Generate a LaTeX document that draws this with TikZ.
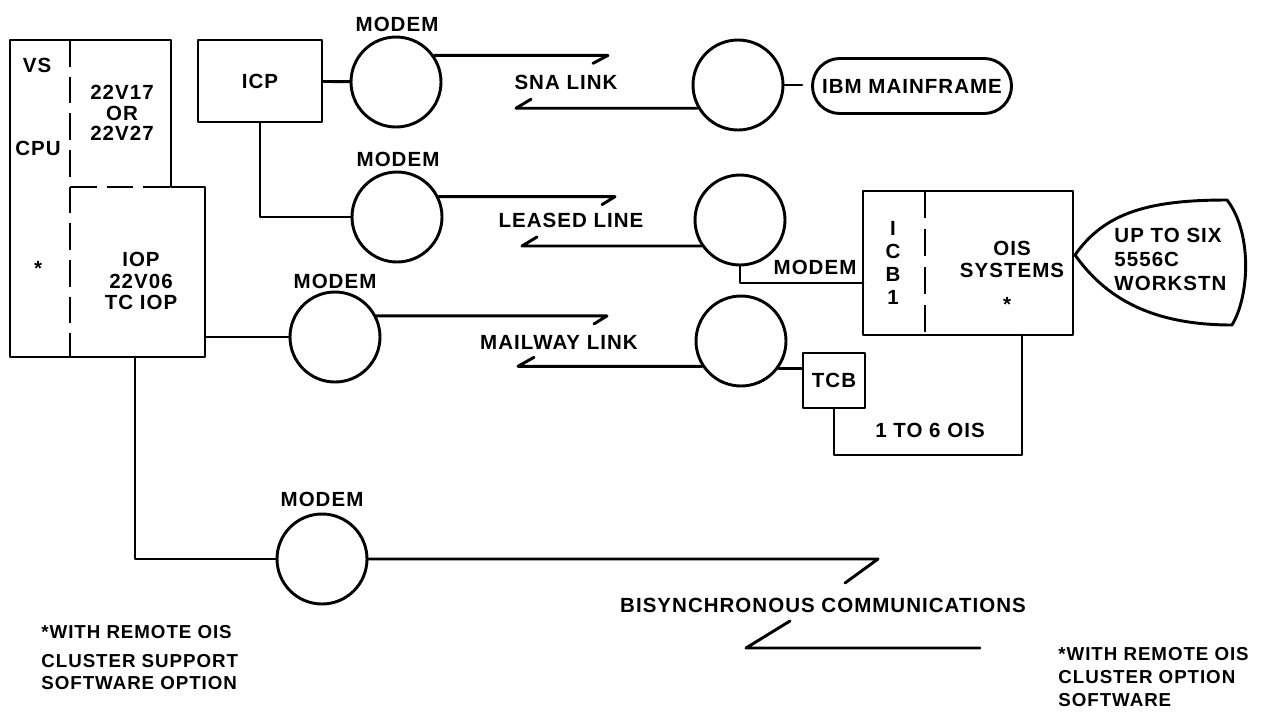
\documentclass[tikz,border=0pt]{standalone}
\usepackage{fontspec}
\setmainfont{Liberation Sans}[LetterSpace=5]
\newcommand\lbl{\fontsize{17.5pt}{21pt}\selectfont\bfseries}
\newcommand\lblsp[1]{\fontsize{17.5pt}{#1}\selectfont\bfseries}
\newcommand\fnsp[1]{\fontsize{16pt}{#1}\selectfont\bfseries}
\begin{document}
\begin{tikzpicture}[x=0.3mm,y=-0.3mm,line width=2.5pt,line join=round,line cap=round,
  modem/.style={circle,draw,minimum size=27mm,inner sep=0pt},
  boxnode/.style={draw,rectangle,inner sep=0pt,font=\lbl},
  txt/.style={inner sep=0pt,align=center,font=\lbl},
  dsh/.style={dash pattern=on 8mm off 3mm,line cap=butt}]
\useasboundingbox (0,0) rectangle (1263,712);

% CPU block
\draw (10,40) -- (171,40) -- (171,187) -- (205,187) -- (205,357) -- (10,357) -- cycle;
\draw[dsh] (70,40) -- (70,357);
\draw[dsh] (70,187) -- (171,187);
\node[txt] (tVS) at (37,65) {VS};
\node[txt] (tCPU) at (38,148) {CPU};
\node[txt] (tStarA) at (38,268) {*};
\node[txt,font=\lblsp{17.5pt}] (t22) at (122,113) {22V17\\OR\\22V27};
\node[txt,font=\lblsp{18pt}] (tIOP) at (141,281) {IOP\\22V06\\TC IOP};

% ICP and modems
\node[boxnode,minimum width=37.2mm,minimum height=24.6mm] (icp) at (260,81) {ICP};
\node[modem] (m1) at (396,82) {};
\node[modem] (m2) at (397,217) {};
\node[modem] (m3) at (335,337) {};
\node[modem] (m4) at (322,559) {};
\node[modem] (mr1) at (738,85) {};
\node[modem] (mr2) at (740,220) {};
\node[modem] (mr3) at (741,341) {};
\node[txt] (lm1) at (397,24) {MODEM};
\node[txt] (lm2) at (398,159) {MODEM};
\node[txt] (lm3) at (335,281) {MODEM};
\node[txt] (lm4) at (322,499) {MODEM};
\node[txt] (lmr2) at (815,267) {MODEM};

% link labels
\node[txt] (lsna) at (566,82) {SNA LINK};
\node[txt] (lleased) at (571,220) {LEASED LINE};
\node[txt] (lmail) at (559,342) {MAILWAY LINK};

% IBM mainframe
\node[draw,rounded corners=8.2mm,minimum width=59.7mm,minimum height=16.5mm,inner sep=0pt,font=\lbl] (ibm) at (912,86) {IBM MAINFRAME};
\coordinate (ibmGap) at (802,85);

% ICB / OIS systems
\node[boxnode,minimum width=63mm,minimum height=43.2mm] (icb) at (968,263) {};
\draw[dash pattern=on 8mm off 3.4mm,line cap=butt] (925,191) -- (925,335);
\node[txt,font=\lblsp{19.6pt}] (ticb) at (893,263) {I\\C\\B\\1};
\node[txt,font=\lblsp{18.8pt}] (tois) at (1012,259) {OIS\\SYSTEMS};
\node[txt] (tStarB) at (1007,304) {*};

% workstation shape
\draw (1075,255) .. controls (1105,212) and (1150,200) .. (1227,200)
      .. controls (1252,232) and (1250,295) .. (1232,325)
      .. controls (1150,325) and (1105,297) .. (1075,255);
\node[txt,align=left,anchor=west,font=\lblsp{20.5pt}] (tws) at (1113,259) {UP TO SIX\\5556C\\WORKSTN};

% TCB
\node[boxnode,minimum width=18.6mm,minimum height=16.5mm] (tcb) at (834,380.5) {TCB};
\node[txt] (l16) at (930,430) {1 TO 6 OIS};

% coordinates
\coordinate (snaTip) at (608,57);
\coordinate (snaBack) at (516,107);
\coordinate (lTip) at (615,197);
\coordinate (lBack) at (522,245);
\coordinate (mTip) at (607,316);
\coordinate (mBack) at (518,365);
\coordinate (iopR) at (205,337);
\coordinate (cpuB) at (135,357);
\coordinate (icbIn) at (863,283);
\coordinate (oisLoop) at (1022,455);
\coordinate (oisB) at (1022,335);
\coordinate (bz1) at (878,559);
\coordinate (bz2) at (845,583);
\coordinate (bz3) at (790,621);
\coordinate (bz4) at (746,648);
\coordinate (bz5) at (980,648);

% connectors
\draw (icp) -- (m1);
\draw (icp.south) |- (m2);
\draw (iopR) -- (m3);
\draw (cpuB) |- (m4);
\draw (mr1) -- (ibmGap);
\draw (m1.35) -- (m1.35 -| snaTip) -- ++(-15,8);
\draw (mr1.210) -- (mr1.210 -| snaBack) -- ++(15,-9);
\draw (m2.26) -- (m2.26 -| lTip) -- ++(-13,8);
\draw (mr2.214) -- (mr2.214 -| lBack) -- ++(15,-9);
\draw (m3.27) -- (m3.27 -| mTip) -- ++(-13,8);
\draw (mr3.213) -- (mr3.213 -| mBack) -- ++(16,-9);
\draw (mr3.-36) -- (mr3.-36 -| tcb.west);
\draw (mr2.south) |- (icbIn);
\draw (tcb.south) |- (oisLoop) -- (oisB);

% bisynchronous
\draw (m4) -- (bz1) -- (bz2);
\draw (bz3) -- (bz4) -- (bz5);
\node[txt] (lbisync) at (823,605) {BISYNCHRONOUS COMMUNICATIONS};

% footnotes
\node[txt,anchor=west,font=\fnsp{18pt}] (fnL1) at (40,632) {*WITH REMOTE OIS};
\node[txt,align=left,anchor=west,font=\fnsp{18.5pt}] (fnL2) at (40,672) {CLUSTER SUPPORT\\SOFTWARE OPTION};
\node[txt,align=left,anchor=west,font=\fnsp{19.6pt}] (fnR) at (1057,677) {*WITH REMOTE OIS\\CLUSTER OPTION\\SOFTWARE};
\end{tikzpicture}
\end{document}
